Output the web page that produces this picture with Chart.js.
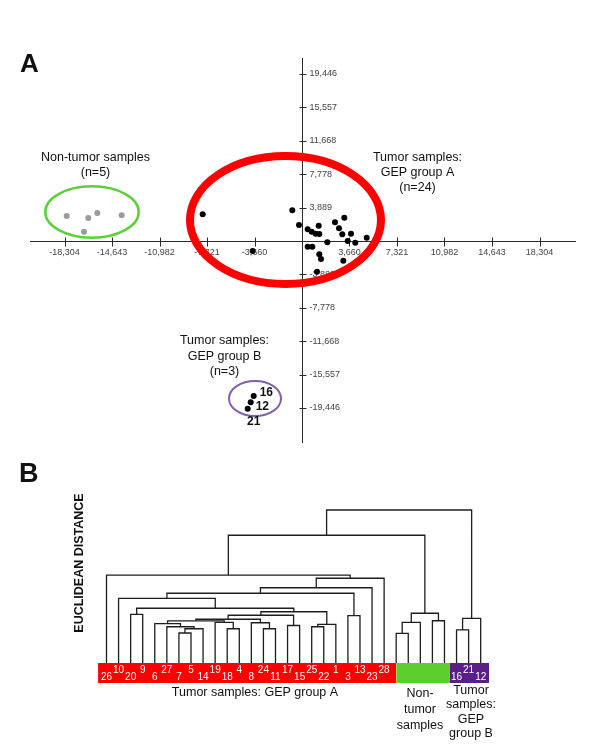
<!DOCTYPE html>
<html><head><meta charset="utf-8">
<script src="https://cdn.jsdelivr.net/npm/chart.js@4.4.0/dist/chart.umd.min.js"></script>
<style>
html,body{margin:0;padding:0;background:#fff;}
#wrap{position:relative;width:600px;height:755px;overflow:hidden;}
canvas{position:absolute;left:0;top:0;}
</style></head><body>
<div id="wrap"><canvas id="cA" width="600" height="755"></canvas><canvas id="cB" width="600" height="755"></canvas></div>
<script>
// ================= Panel A data =================
const xTickValues = [-18304,-14643,-10982,-7321,-3660,3660,7321,10982,14643,18304];
const xTickLabels = ["-18,304","-14,643","-10,982","-7,321","-3,660","3,660","7,321","10,982","14,643","18,304"];
const yTickValues = [19446,15557,11668,7778,3889,-3889,-7778,-11668,-15557,-19446];
const yTickLabels = ["19,446","15,557","11,668","7,778","3,889","-3,889","-7,778","-11,668","-15,557","-19,446"];

const groupAX = [-748,-231,439,748,1056,1287,1333,1950,439,794,1333,1464,1156,2543,2852,3260,3106,3522,3776,4108,4986,3183,-7653,-3800];
const groupAY = [3574,1862,1362,1083,850,1781,815,-151,-663,-663,-1548,-2095,-3573,2177,1478,2712,780,0,850,-198,384,-2293,3108,-1164];
const nonTumorX = [-18135,-16470,-15776,-13896,-16801];
const nonTumorY = [2910,2677,3259,2991,1083];
const groupBX = [-3723,-3954,-4185];
const groupBY = [-18042,-18775,-19520];
const groupBIds = ["16","12","21"];

// ================= Panel B data =================
const leafLabels = ["26","10","20","9","6","27","7","5","14","19","18","4","8","24","11","17","15","25","22","1","3","13","23","28","","","","","","16","21","12"];
const groupSizes = [24,5,3];
const groupColors = ["#ff0000","#5ccf2e","#5a1f86"];
const barEdges = [-0.7,24.0,28.4,31.7];
// merges: [childA, childB, height]; leaves 0..31, new nodes numbered from 32
const merges = [
 [6,7,19.6],[32,8,22.4],[5,33,23.7],[4,34,25.8],[10,11,22.4],[9,36,26.5],[35,37,27.5],
 [13,14,22.4],[12,39,26.3],[38,40,28.6],[15,16,24.5],[41,42,31.2],[17,18,23.7],[44,19,25.3],
 [43,45,33.5],[2,3,31.8],[47,46,35.8],[1,48,42.3],[20,21,31.0],[49,50,45.6],[51,22,49.2],
 [52,23,55.4],[0,53,57.5],
 [24,25,19.4],[55,26,26.6],[27,28,27.6],[56,57,32.5],[54,58,83.5],
 [29,30,21.6],[60,31,29.2],[59,61,100]
];

const FONT = '"Liberation Sans", Arial, Helvetica, sans-serif';

// ================= Panel A chart =================
const ellipses = [
  {cx:-1272, cy:2444, rx:7360, ry:7450, color:"#ff0000", width:8},
  {cx:-16185, cy:3376, rx:3600, ry:2992, color:"#5ccf3a", width:2.5},
  {cx:-3622, cy:-18333, rx:2004, ry:2037, color:"#7d62a8", width:2}
];

const axesPluginA = {
  id:'axesA',
  beforeDatasetsDraw(chart){
    const {ctx, chartArea:{left,right,top,bottom}, scales:{x,y}} = chart;
    const x0 = Math.round(x.getPixelForValue(0))+0.5, y0 = Math.round(y.getPixelForValue(0))+0.5;
    ctx.save();
    ctx.strokeStyle='#2b2b2b'; ctx.lineWidth=1;
    ctx.beginPath();
    ctx.moveTo(left,y0); ctx.lineTo(right,y0);
    ctx.moveTo(x0,top); ctx.lineTo(x0,bottom);
    xTickValues.forEach(v=>{const px=Math.round(x.getPixelForValue(v))+0.5; ctx.moveTo(px,y0-4); ctx.lineTo(px,y0+5);});
    yTickValues.forEach(v=>{const py=Math.round(y.getPixelForValue(v))+0.5; ctx.moveTo(x0-3,py); ctx.lineTo(x0+4,py);});
    ctx.stroke();
    ctx.fillStyle='#444'; ctx.font='9px '+FONT;
    ctx.textAlign='center'; ctx.textBaseline='middle';
    xTickValues.forEach((v,i)=>ctx.fillText(xTickLabels[i], x.getPixelForValue(v), y0+11));
    ctx.textAlign='left';
    yTickValues.forEach((v,i)=>ctx.fillText(yTickLabels[i], x0+7, y.getPixelForValue(v)));
    ellipses.forEach(e=>{
      const cx=x.getPixelForValue(e.cx), cy=y.getPixelForValue(e.cy);
      const rx=Math.abs(x.getPixelForValue(e.cx+e.rx)-cx), ry=Math.abs(y.getPixelForValue(e.cy+e.ry)-cy);
      ctx.beginPath(); ctx.ellipse(cx,cy,rx,ry,0,0,Math.PI*2);
      ctx.strokeStyle=e.color; ctx.lineWidth=e.width; ctx.stroke();
    });
    ctx.restore();
  },
  afterDatasetsDraw(chart){
    const {ctx, scales:{x,y}} = chart;
    ctx.save();
    ctx.fillStyle='#111'; ctx.textBaseline='middle';
    ctx.font='bold 26px '+FONT; ctx.textAlign='left';
    ctx.fillText('A', 20, 65);
    ctx.font='12.5px '+FONT; ctx.textAlign='center';
    const t = (s,px,py)=>ctx.fillText(s,px,py);
    t('Non-tumor samples',95.5,157.5); t('(n=5)',95.5,173);
    t('Tumor samples:',417.5,157.5); t('GEP group A',417.5,172.5); t('(n=24)',417.5,187.5);
    t('Tumor samples:',224.5,341); t('GEP group B',224.5,356.5); t('(n=3)',224.5,371.5);
    // group B point ids
    ctx.font='bold 12px '+FONT;
    const offs=[[6,-3,'left'],[5,4,'left'],[6,13,'center']];
    groupBIds.forEach((s,i)=>{
      const px=x.getPixelForValue(groupBX[i]), py=y.getPixelForValue(groupBY[i]);
      ctx.textAlign=offs[i][2]; ctx.fillText(s, px+offs[i][0], py+offs[i][1]);
    });
    ctx.restore();
  }
};

const pts = (xs,ys)=>xs.map((v,i)=>({x:v,y:ys[i]}));
new Chart(document.getElementById('cA'), {
  type:'scatter',
  data:{datasets:[
    {label:'Tumor samples: GEP group A', data:pts(groupAX,groupAY), backgroundColor:'#000', borderColor:'#000', pointRadius:3, pointBorderWidth:0},
    {label:'Non-tumor samples', data:pts(nonTumorX,nonTumorY), backgroundColor:'#9a9a9a', borderColor:'#9a9a9a', pointRadius:3, pointBorderWidth:0},
    {label:'Tumor samples: GEP group B', data:pts(groupBX,groupBY), backgroundColor:'#000', borderColor:'#000', pointRadius:3, pointBorderWidth:0}
  ]},
  options:{
    responsive:false, animation:false, devicePixelRatio:1,
    layout:{padding:{left:30,right:24,top:58,bottom:312}},
    plugins:{legend:{display:false}, tooltip:{enabled:false}},
    scales:{
      x:{type:'linear', display:false, min:-20963, max:21117},
      y:{type:'linear', display:false, min:-23521, max:21308}
    }
  },
  plugins:[axesPluginA]
});

// ================= Panel B chart =================
const nodeX = leafLabels.map((_,i)=>i);
const nodeH = leafLabels.map(()=>0);
const dendroSets = merges.map(([a,b,h])=>{
  nodeX.push((nodeX[a]+nodeX[b])/2); nodeH.push(h);
  return {data:[{x:nodeX[a],y:nodeH[a]},{x:nodeX[a],y:h},{x:nodeX[b],y:h},{x:nodeX[b],y:nodeH[b]}],
    borderColor:'#1e1e1e', borderWidth:1.3, pointRadius:0, fill:false, tension:0};
});
const BAR_BOTTOM = -13.07;
const barSets = groupSizes.map((_,g)=>({
  data:[{x:barEdges[g],y:0},{x:barEdges[g+1],y:0}],
  borderColor:'rgba(0,0,0,0)', borderWidth:0, pointRadius:0, tension:0,
  backgroundColor:groupColors[g], fill:{value:BAR_BOTTOM}
}));

const textPluginB = {
  id:'textB',
  afterDatasetsDraw(chart){
    const {ctx, scales:{x,y}} = chart;
    const base = y.getPixelForValue(0);
    ctx.save();
    ctx.fillStyle='#fff'; ctx.font='10px '+FONT; ctx.textAlign='center'; ctx.textBaseline='middle';
    let start=0;
    groupSizes.forEach(n=>{
      for(let k=0;k<n;k++){
        const i=start+k; if(!leafLabels[i]) continue;
        const low = (k%2===0);
        ctx.fillText(leafLabels[i], x.getPixelForValue(i), base + (low?14.5:6.8));
      }
      start+=n;
    });
    ctx.fillStyle='#111';
    ctx.font='bold 27px '+FONT; ctx.textAlign='left';
    ctx.fillText('B', 19, 475);
    ctx.font='12.5px '+FONT; ctx.textAlign='center';
    const t=(s,px,py)=>ctx.fillText(s,px,py);
    t('Tumor samples: GEP group A',255,693);
    t('Non-',420,694); t('tumor',420,709.5); t('samples',420,725.5);
    t('Tumor',471,690.5); t('samples:',471,705); t('GEP',471,719.5); t('group B',471,733.5);
    ctx.save();
    ctx.translate(80,563); ctx.rotate(-Math.PI/2);
    ctx.font='bold 12.5px '+FONT;
    ctx.fillText('EUCLIDEAN DISTANCE',0,0);
    ctx.restore();
    ctx.restore();
  }
};

new Chart(document.getElementById('cB'), {
  type:'line',
  data:{datasets:[...dendroSets, ...barSets]},
  options:{
    responsive:false, animation:false, devicePixelRatio:1,
    layout:{padding:{left:90,right:100,top:500,bottom:65}},
    plugins:{legend:{display:false}, tooltip:{enabled:false}},
    scales:{
      x:{type:'linear', display:false, min:-1.367, max:32.60},
      y:{type:'linear', display:false, min:-17.65, max:106.54}
    }
  },
  plugins:[textPluginB]
});
</script>
</body></html>
